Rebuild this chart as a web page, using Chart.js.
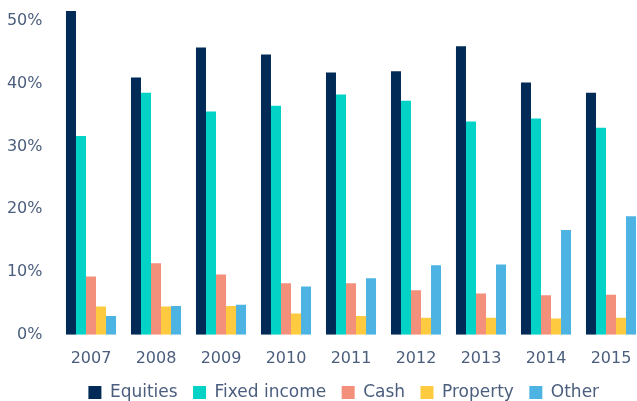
<!DOCTYPE html>
<html>
<head>
<meta charset="utf-8">
<script src="https://cdn.jsdelivr.net/npm/chart.js@4"></script>
<style>
  html, body { margin: 0; padding: 0; background: #fff; overflow: hidden; }
  #wrap { width: 688px; height: 420px; margin-top: -9px; }
</style>
</head>
<body>
<div id="wrap"><canvas id="allocationChart"></canvas></div>
<script>
// asset allocation by year (% of portfolio)
const years = ['2007', '2008', '2009', '2010', '2011', '2012', '2013', '2014', '2015'];
const equities = [51.6, 41.0, 45.8, 44.7, 41.8, 42.0, 46.0, 40.2, 38.6];
const fixedIncome = [31.7, 38.6, 35.6, 36.5, 38.3, 37.3, 34.0, 34.5, 33.0];
const cash = [9.3, 11.4, 9.6, 8.2, 8.2, 7.1, 6.6, 6.3, 6.4];
const property = [4.5, 4.5, 4.6, 3.4, 3.0, 2.7, 2.7, 2.6, 2.7];
const other = [3.0, 4.6, 4.8, 7.7, 9.0, 11.1, 11.2, 16.7, 18.9];
const yTicks = [0, 10, 20, 30, 40, 50];

const textColor = '#4b5e7d';
const fontFamily = '"DejaVu Sans", sans-serif';

function makeSet(label, data, color) {
    return {
        label: label,
        data: data,
        backgroundColor: color,
        borderColor: color,
        borderWidth: 0,
        categoryPercentage: 0.77,
        barPercentage: 1.0
    };
}

// move the legend so it sits centred under the whole picture
const legendShift = {
    id: 'legendShift',
    afterLayout(chart) {
        chart.legend.left += 22;
        chart.legend.right += 22;
    }
};

const ctx = document.getElementById('allocationChart');

new Chart(ctx, {
    type: 'bar',
    data: {
        labels: years,
        datasets: [
            makeSet('Equities', equities, '#012a56'),
            makeSet('Fixed income', fixedIncome, '#03d3c7'),
            makeSet('Cash', cash, '#f3907c'),
            makeSet('Property', property, '#fecb40'),
            makeSet('Other', other, '#4db3e2')
        ]
    },
    plugins: [legendShift],
    options: {
        responsive: true,
        maintainAspectRatio: false,
        animation: false,
        layout: {
            padding: { left: 0, right: 44.5, top: 0, bottom: 0 }
        },
        scales: {
            x: {
                grid: { display: false },
                border: { display: false },
                ticks: {
                    color: textColor,
                    padding: 6,
                    font: { family: fontFamily, size: 16 }
                }
            },
            y: {
                min: 0,
                max: 52,
                grid: { display: false },
                border: { display: false },
                afterFit: function(scale) { scale.width = 58.5; },
                afterBuildTicks: function(scale) {
                    scale.ticks = yTicks.map(v => ({ value: v }));
                },
                ticks: {
                    padding: 8,
                    color: textColor,
                    font: { family: fontFamily, size: 16 },
                    callback: function(value) { return value + '%'; }
                }
            }
        },
        plugins: {
            legend: {
                position: 'bottom',
                labels: {
                    boxWidth: 13,
                    boxHeight: 13,
                    padding: 10,
                    color: textColor,
                    font: { family: fontFamily, size: 17 },
                    generateLabels: function(chart) {
                        const items = Chart.defaults.plugins.legend.labels.generateLabels(chart);
                        items.forEach((item, i) => {
                            item.lineWidth = 0;
                            if (i < items.length - 1) item.text = item.text + ' ';
                        });
                        return items;
                    }
                }
            },
            tooltip: { enabled: false }
        }
    }
});
</script>
</body>
</html>
